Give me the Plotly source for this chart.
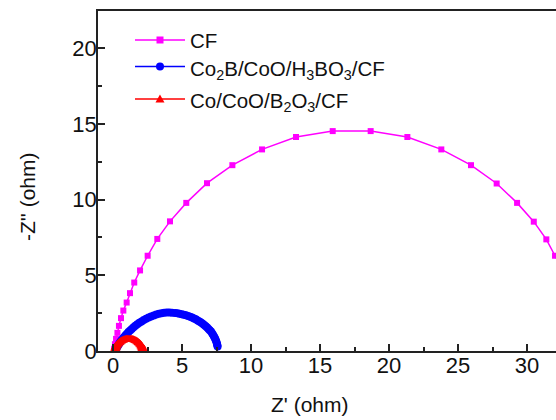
import plotly.graph_objects as go

# ---- data ----
cf_x = [0.08, 0.14, 0.22, 0.32, 0.43, 0.58, 0.75, 0.99, 1.23, 1.54, 1.96, 2.51, 3.21, 4.13,
        5.31, 6.81, 8.65, 10.80, 13.26, 15.92, 18.67, 21.33, 23.79, 25.94, 27.80, 29.28,
        30.49, 31.40, 32.03, 32.60, 33.05]
cf_y = [0.15, 0.45, 0.80, 1.20, 1.66, 2.17, 2.67, 3.20, 3.82, 4.52, 5.32, 6.29, 7.40, 8.56,
        9.78, 11.08, 12.27, 13.31, 14.13, 14.52, 14.52, 14.13, 13.31, 12.27, 11.06, 9.78,
        8.54, 7.37, 6.29, 5.32, 4.52]

co2b_x = [0.15, 0.21, 0.27, 0.33, 0.40, 0.47, 0.55, 0.63, 0.72, 0.81, 0.91, 1.01, 1.12, 1.24,
          1.36, 1.49, 1.62, 1.76, 1.91, 2.07, 2.23, 2.40, 2.58, 2.76, 2.95, 3.14, 3.33, 3.52,
          3.71, 3.90, 4.09, 4.28, 4.50, 4.66, 4.82, 4.98, 5.13, 5.29, 5.44, 5.59, 5.73, 5.87,
          6.00, 6.13, 6.26, 6.38, 6.50, 6.61, 6.72, 6.82, 6.92, 7.01, 7.10, 7.18, 7.25, 7.31,
          7.37, 7.42, 7.47, 7.51, 7.54, 7.56, 7.58]
co2b_y = [0.02, 0.12, 0.22, 0.32, 0.42, 0.52, 0.62, 0.72, 0.83, 0.93, 1.04, 1.14, 1.25, 1.35,
          1.46, 1.56, 1.66, 1.76, 1.86, 1.95, 2.04, 2.13, 2.21, 2.28, 2.35, 2.41, 2.46, 2.50,
          2.52, 2.54, 2.54, 2.53, 2.51, 2.49, 2.46, 2.43, 2.40, 2.36, 2.31, 2.26, 2.21, 2.15,
          2.09, 2.02, 1.95, 1.88, 1.80, 1.72, 1.64, 1.55, 1.46, 1.37, 1.28, 1.18, 1.08, 0.98,
          0.87, 0.77, 0.66, 0.56, 0.46, 0.38, 0.30]

co_x = [0.15, 0.155, 0.165, 0.185, 0.21, 0.245, 0.284, 0.33, 0.384, 0.443, 0.507, 0.576,
        0.65, 0.727, 0.808, 0.891, 0.976, 1.063, 1.15, 1.237, 1.324, 1.409, 1.492, 1.573,
        1.65, 1.724, 1.793, 1.857, 1.916, 1.97, 2.016, 2.055, 2.09, 2.115, 2.135, 2.145, 2.15]
co_y = [0.00, 0.07, 0.13, 0.20, 0.26, 0.33, 0.39, 0.45, 0.50, 0.55, 0.60, 0.64, 0.68, 0.71,
        0.74, 0.76, 0.77, 0.78, 0.78, 0.78, 0.77, 0.76, 0.74, 0.71, 0.68, 0.64, 0.60, 0.55,
        0.50, 0.45, 0.39, 0.33, 0.26, 0.20, 0.13, 0.07, 0.02]

names = ["CF", "Co<sub>2</sub>B/CoO/H<sub>3</sub>BO<sub>3</sub>/CF",
         "Co/CoO/B<sub>2</sub>O<sub>3</sub>/CF"]
colors = ["#FF00FF", "#0000FF", "#FF0000"]
symbols = ["square", "circle", "triangle-up"]
x_ticks = [0, 5, 10, 15, 20, 25, 30]
y_ticks = [0, 5, 10, 15, 20]

FONT = "Liberation Sans, Arial, sans-serif"
TXT = "#111111"

fig = go.Figure()
fig.add_trace(go.Scatter(x=cf_x, y=cf_y, mode="lines+markers", name=names[0],
                         line=dict(color=colors[0], width=1.5),
                         marker=dict(symbol=symbols[0], size=6, color=colors[0])))
fig.add_trace(go.Scatter(x=co2b_x, y=co2b_y, mode="lines+markers", name=names[1],
                         line=dict(color=colors[1], width=1.5),
                         marker=dict(symbol=symbols[1], size=8, color=colors[1])))
fig.add_trace(go.Scatter(x=co_x, y=co_y, mode="lines+markers", name=names[2],
                         line=dict(color=colors[2], width=1.5),
                         marker=dict(symbol=symbols[2], size=9, color=colors[2])))

axis_common = dict(showgrid=False, zeroline=False, showline=True, linecolor="#222222",
                   linewidth=1.5, ticks="inside", ticklen=7, tickwidth=1.5, tickcolor="#222222",
                   tickfont=dict(family=FONT, size=22, color=TXT))

fig.update_xaxes(range=[-1.087, 32.1], tickmode="array", tickvals=x_ticks,
                 minor=dict(dtick=2.5, tick0=0, ticks="inside", ticklen=4, tickwidth=1.5,
                            tickcolor="#222222"),
                 mirror=True, ticklabelstandoff=-6, **axis_common)
fig.update_yaxes(range=[0, 22.45], tickmode="array", tickvals=y_ticks,
                 minor=dict(dtick=2.5, tick0=0, ticks="inside", ticklen=4, tickwidth=1.5,
                            tickcolor="#222222"),
                 ticklabelstandoff=-5, **axis_common)

# axis titles
fig.add_annotation(text="Z' (ohm)", xref="paper", yref="paper",
                   x=(310 - 98) / 458, y=-(405 - 351) / 340, showarrow=False,
                   xanchor="center", yanchor="middle",
                   font=dict(family=FONT, size=21, color=TXT))
fig.add_annotation(text="-Z'' (ohm)", xref="paper", yref="paper",
                   x=-(98 - 27) / 458, y=(351 - 197) / 340, showarrow=False, textangle=-90,
                   xanchor="center", yanchor="middle",
                   font=dict(family=FONT, size=21, color=TXT))

# legend drawn in paper coordinates (long sample lines like the reference)
def px(xp):
    return (xp - 98) / 458

def py(yp):
    return (351 - yp) / 340

rows_y = [40, 66.5, 99]
text_dy = [0, 3, 3]
for i in range(3):
    yy = rows_y[i]
    fig.add_shape(type="line", xref="paper", yref="paper", x0=px(135), x1=px(185),
                  y0=py(yy), y1=py(yy), line=dict(color=colors[i], width=1.5))
    if i == 0:
        fig.add_shape(type="rect", xref="paper", yref="paper", x0=px(156.5), x1=px(163.5),
                      y0=py(yy + 3.5), y1=py(yy - 3.5), fillcolor=colors[i],
                      line=dict(width=0))
    elif i == 1:
        fig.add_shape(type="circle", xref="paper", yref="paper", x0=px(156), x1=px(164),
                      y0=py(yy + 4), y1=py(yy - 4), fillcolor=colors[i],
                      line=dict(width=0))
    else:
        path = "M {:.5f} {:.5f} L {:.5f} {:.5f} L {:.5f} {:.5f} Z".format(
            px(155.5), py(yy + 3.5), px(164.5), py(yy + 3.5), px(160), py(yy - 4.5))
        fig.add_shape(type="path", xref="paper", yref="paper", path=path,
                      fillcolor=colors[i], line=dict(width=0))
    fig.add_annotation(text=names[i], xref="paper", yref="paper", x=px(188),
                       y=py(yy + text_dy[i]), xanchor="left", yanchor="middle",
                       showarrow=False, font=dict(family=FONT, size=20.5, color=TXT))

fig.update_layout(width=556, height=420, margin=dict(l=98, r=0, t=11, b=69),
                  plot_bgcolor="white", paper_bgcolor="white", showlegend=False)

fig.write_html("out.html")
